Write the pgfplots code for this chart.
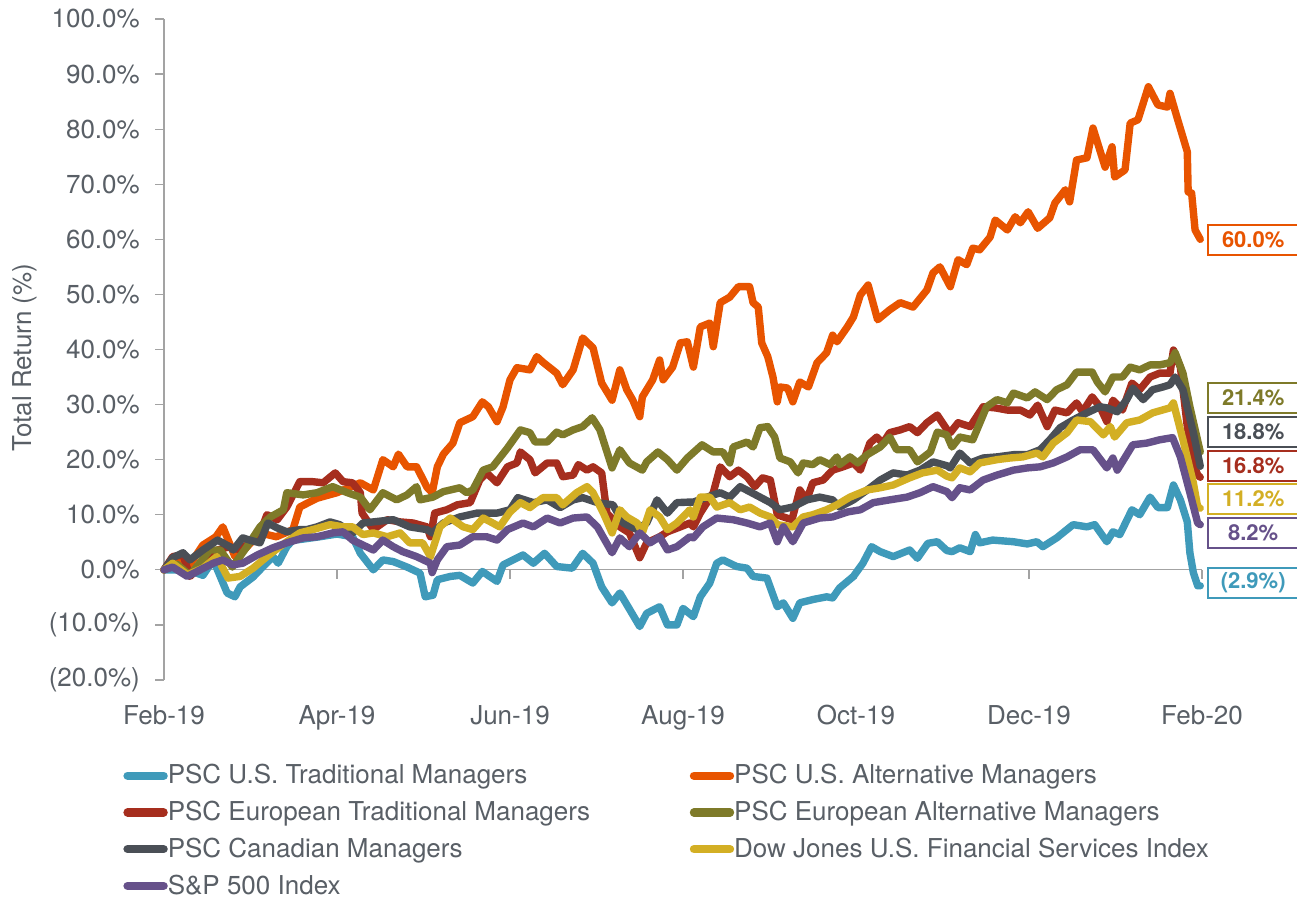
\documentclass[border=0pt]{standalone}
\usepackage{fontspec}
\setmainfont{TeX Gyre Heros}
\usepackage{pgfplots}
\pgfplotsset{compat=1.18}
\definecolor{cTeal}{HTML}{3F9ABA}
\definecolor{cOrange}{HTML}{E85400}
\definecolor{cRed}{HTML}{A62E1E}
\definecolor{cOlive}{HTML}{7E7A29}
\definecolor{cGray}{HTML}{4A4F56}
\definecolor{cYellow}{HTML}{D3AF24}
\definecolor{cPurple}{HTML}{66518A}
\definecolor{cText}{HTML}{595F66}
\definecolor{cAxis}{HTML}{A3A3A3}
\begin{document}
\begin{tikzpicture}
\useasboundingbox (-82pt,-108.5pt) rectangle (566.5pt,340pt);
\begin{axis}[
  at={(0,0)}, anchor=south west,
  scale only axis, width=519pt, height=330.5pt,
  xmin=0, xmax=12, ymin=-20, ymax=100,
  clip=false,
  axis y line*=left, axis x line*=bottom,
  x axis line style={draw=none},
  y axis line style={cAxis, line width=0.6pt},
  xtick={0,2,4,6,8,10,12},
  xticklabels={Feb-19,Apr-19,Jun-19,Aug-19,Oct-19,Dec-19,Feb-20},
  xtick style={draw=none},
  ytick={-20,-10,0,10,20,30,40,50,60,70,80,90,100},
  yticklabels={(20.0\%),(10.0\%),0.0\%,10.0\%,20.0\%,30.0\%,40.0\%,50.0\%,60.0\%,70.0\%,80.0\%,90.0\%,100.0\%},
  ytick style={cAxis, line width=0.6pt},
  tick align=outside, major tick length=4.4pt,
  tick label style={font=\fontsize{13}{15}\selectfont, text=cText},
  xticklabel style={anchor=base, yshift=-17.8pt},
  yticklabel style={inner xsep=0pt, xshift=-7.5pt},
  ylabel={Total Return (\%)},
  ylabel style={at={(axis description cs:-0.134,0.488)}, anchor=center, font=\fontsize{13}{15}\selectfont, text=cText},
  every axis plot/.append style={line width=3.7pt, line join=round, line cap=round},
  legend columns=2,
  legend cell align=left,
  legend style={at={(axis description cs:-0.0395,-0.1165)}, anchor=north west, draw=none, fill=none,
    inner sep=0pt, column sep=0pt, row sep=0pt,
    font=\fontsize{13}{15}\selectfont, text=cText,
    nodes={inner xsep=0pt, inner ysep=0pt, minimum height=18.35pt}},
  legend image code/.code={\draw[#1, line width=4.2pt, line cap=round] (2pt,0pt) -- (20pt,0pt);},
]
\draw[cAxis, line width=0.6pt] (axis cs:0,0) -- (axis cs:12,0);
\draw[cAxis, line width=0.6pt] (axis cs:2,0) -- ++(0pt,-4.4pt);
\draw[cAxis, line width=0.6pt] (axis cs:4,0) -- ++(0pt,-4.4pt);
\draw[cAxis, line width=0.6pt] (axis cs:6,0) -- ++(0pt,-4.4pt);
\draw[cAxis, line width=0.6pt] (axis cs:8,0) -- ++(0pt,-4.4pt);
\draw[cAxis, line width=0.6pt] (axis cs:10,0) -- ++(0pt,-4.4pt);
\draw[cAxis, line width=0.6pt] (axis cs:12,0) -- ++(0pt,-4.4pt);

% PSC U.S. Traditional Managers
\addplot[cTeal] coordinates {
(0,0) (0.27,0) (0.45,-1) (0.57,1.8) (0.73,-4.2) (0.82,-4.9) (0.88,-3.1) (1.03,-1.3) (1.14,0.5) (1.26,2.4) (1.32,1.2) (1.42,4.2) (1.49,5.4)
(1.57,5.5) (1.8,6) (2.0,6.5) (2.18,6) (2.27,3) (2.42,0) (2.53,1.8) (2.65,1.5) (2.81,0.5) (2.96,-0.6) (3.02,-4.9) (3.11,-4.6) (3.16,-1.8)
(3.31,-1.2) (3.42,-1) (3.57,-2.4) (3.68,-0.3) (3.85,-2.1) (3.92,0.9) (4.15,2.7) (4.27,1.2) (4.40,3) (4.54,0.6) (4.72,0.3) (4.84,3) (4.96,1.2)
(5.06,-3.1) (5.18,-6) (5.27,-4.2) (5.41,-7.9) (5.50,-10.3) (5.58,-7.9) (5.73,-6.7) (5.82,-10) (5.93,-10) (6.00,-7) (6.12,-8.5) (6.20,-4.9)
(6.31,-2.4) (6.39,1.2) (6.46,1.8) (6.62,0.6) (6.74,0.3) (6.81,-1.2) (6.97,-1.5) (7.09,-6.7) (7.16,-6) (7.27,-8.8) (7.35,-6) (7.50,-5.4)
(7.66,-4.9) (7.73,-5.1) (7.81,-3.3) (7.97,-1.2) (8.08,1.2) (8.18,4.2) (8.28,3.3) (8.43,2.4) (8.62,3.6) (8.71,2.1) (8.83,4.8) (8.94,5.1)
(9.05,3.5) (9.11,3.3) (9.20,4) (9.32,3.3) (9.38,6.4) (9.43,4.9) (9.58,5.4) (9.82,5.1) (9.98,4.7) (10.09,5.1) (10.16,4.2) (10.32,5.8)
(10.51,8.2) (10.67,7.8) (10.76,8.2) (10.90,5.1) (10.97,6.9) (11.05,6.4) (11.19,10.9) (11.28,10) (11.40,13.2) (11.49,11.3) (11.60,11.3)
(11.67,15.4) (11.75,12.7) (11.83,8.7) (11.86,3.1) (11.90,-0.5) (11.95,-2.9) (11.98,-2.9)
};
\addlegendentry{\makebox[261pt][l]{PSC U.S. Traditional Managers}}

% PSC U.S. Alternative Managers
\addplot[cOrange] coordinates {
(0,0) (0.15,1.5) (0.3,1) (0.45,4.5) (0.6,6) (0.68,7.8) (0.82,2.4) (0.95,4) (1.11,6.7) (1.3,6) (1.49,7.3) (1.57,11.4) (1.77,13) (2.00,14)
(2.27,15.8) (2.42,14.5) (2.53,20) (2.65,18.7) (2.71,21) (2.81,18.7) (2.92,18.7) (3.04,15) (3.10,14) (3.16,18.7) (3.23,21) (3.34,23)
(3.42,26.7) (3.57,27.8) (3.68,30.5) (3.75,29.6) (3.85,26.9) (3.92,29.6) (4.00,34.5) (4.08,36.7) (4.23,36.3) (4.31,38.7) (4.38,37.7)
(4.54,35.7) (4.61,33.6) (4.73,36.3) (4.84,42.1) (4.96,40.3) (5.06,33.9) (5.18,30.8) (5.27,36.3) (5.35,32.7) (5.42,30.8) (5.50,27.8)
(5.53,31.4) (5.65,34.5) (5.73,38.1) (5.77,34.5) (5.88,36.8) (5.97,41.2) (6.05,41.4) (6.12,36.8) (6.20,44.1) (6.31,44.8) (6.35,40.5)
(6.43,48.5) (6.54,49.5) (6.64,51.4) (6.77,51.4) (6.81,48.5) (6.87,47.7) (6.91,41.2) (6.98,38.7) (7.04,35) (7.09,30.5) (7.12,33.2)
(7.21,33) (7.27,30.5) (7.35,34.1) (7.45,33.2) (7.55,37.6) (7.66,39.4) (7.73,42.6) (7.78,41.4) (7.90,44.1) (7.97,45.9) (8.05,49.9)
(8.14,51.7) (8.25,45.4) (8.39,47.2) (8.51,48.5) (8.66,47.7) (8.82,50.8) (8.89,53.9) (8.97,55) (9.09,51.4) (9.18,56.3) (9.28,55.4)
(9.35,58.4) (9.43,58.1) (9.55,60.4) (9.61,63.5) (9.75,61.7) (9.84,64.1) (9.90,63) (9.99,65) (10.10,62) (10.24,63.9) (10.30,66.6)
(10.42,69) (10.47,66.8) (10.55,74.4) (10.67,74.8) (10.74,80.2) (10.88,73.1) (10.96,76.8) (10.99,71.3) (11.11,72.6) (11.17,81.1)
(11.26,81.7) (11.38,87.7) (11.49,84.4) (11.60,84) (11.63,86.5) (11.71,82.2) (11.83,75.9) (11.84,68.6) (11.88,68.4) (11.92,61.7) (11.98,60.0)
};
\addlegendentry{PSC U.S. Alternative Managers}

% PSC European Traditional Managers
\addplot[cRed] coordinates {
(0,0) (0.10,2.4) (0.22,2.7) (0.30,-1.2) (0.45,1.2) (0.62,3.6) (0.76,4.2) (0.88,3.6) (0.99,4.9) (1.11,6.7) (1.19,10) (1.31,9.1) (1.42,11.4)
(1.57,16) (1.72,16) (1.84,15.8) (1.98,17.6) (2.07,16) (2.18,15.8) (2.27,14) (2.29,10.3) (2.42,7.3) (2.58,9.1) (2.73,8.7) (2.88,8.5)
(3.04,7.8) (3.08,6) (3.13,10.3) (3.27,10.9) (3.39,11.8) (3.54,12.2) (3.65,16.3) (3.73,17.6) (3.85,15.8) (3.97,18.7) (4.08,19.4) (4.12,21.4)
(4.23,20) (4.29,17.6) (4.43,19.4) (4.54,19.4) (4.61,16.9) (4.73,17.2) (4.79,19.1) (4.89,18.1) (4.96,18.7) (5.06,17.6) (5.12,10.3)
(5.27,7.8) (5.38,6.7) (5.50,2.2) (5.58,4.9) (5.73,6) (5.82,6.9) (5.97,7.8) (6.08,8.5) (6.12,7.8) (6.20,10.3) (6.35,14) (6.43,18.7)
(6.54,16.9) (6.64,18.1) (6.74,16.9) (6.83,15.1) (6.92,16.7) (7.01,16.3) (7.09,10) (7.16,9.6) (7.26,9.1) (7.35,14.5) (7.43,12.7) (7.50,15.8)
(7.62,16.3) (7.73,18.1) (7.85,18.7) (7.97,19.4) (8.05,18.1) (8.16,23) (8.24,24.1) (8.31,23) (8.39,24.9) (8.51,25.4) (8.62,26) (8.71,24.9)
(8.82,26.7) (8.94,28.1) (9.05,25.5) (9.09,24.9) (9.18,26.7) (9.32,26) (9.47,29.6) (9.61,29.4) (9.75,29) (9.90,29) (10.01,28.1) (10.10,29.9)
(10.21,26) (10.30,29) (10.44,28.5) (10.55,30.3) (10.62,28.7) (10.73,31.4) (10.82,29.6) (10.90,26.9) (10.97,30.8) (11.08,29) (11.19,33.9)
(11.28,32.7) (11.40,35) (11.51,35.7) (11.63,35.7) (11.67,39.9) (11.75,36.8) (11.83,26) (11.90,19.4) (11.95,17.2) (11.98,16.8)
};
\addlegendentry{\makebox[261pt][l]{PSC European Traditional Managers}}

% PSC European Alternative Managers
\addplot[cOlive] coordinates {
(0,0) (0.15,1) (0.30,-1) (0.53,3.6) (0.65,3.6) (0.79,0.5) (0.95,4) (1.11,7.8) (1.23,9.6) (1.38,10.9) (1.42,14) (1.61,13.6) (1.77,14)
(1.95,15.1) (2.12,14) (2.27,13.2) (2.38,10.9) (2.53,14) (2.69,12.7) (2.81,13.6) (2.92,15.1) (2.96,12.7) (3.08,13.1) (3.11,13.2) (3.23,14.2)
(3.42,14.9) (3.50,14) (3.57,14.5) (3.69,18.1) (3.80,18.7) (3.97,22.1) (4.12,25.4) (4.23,24.9) (4.29,23.2) (4.43,23.2) (4.54,25) (4.61,24.5)
(4.73,25.4) (4.84,26) (4.95,27.6) (5.04,25.4) (5.18,18.5) (5.27,21.8) (5.38,19.4) (5.53,18.1) (5.58,19.6) (5.71,21.4) (5.82,20) (5.93,18.1)
(6.05,20.3) (6.22,22.7) (6.35,21.4) (6.46,21.4) (6.54,19.4) (6.58,22.3) (6.74,23.2) (6.81,22.3) (6.89,25.8) (6.98,26) (7.06,24.1)
(7.12,20.3) (7.24,19.6) (7.33,17.6) (7.39,19.4) (7.50,19.1) (7.58,20) (7.70,19.1) (7.78,20.5) (7.81,19.1) (7.93,20.5) (8.02,19.4)
(8.13,20.9) (8.28,22.3) (8.39,24.1) (8.47,21.8) (8.62,21.8) (8.71,19.6) (8.86,21.4) (8.94,25) (9.05,24.5) (9.11,22.3) (9.20,24.1)
(9.35,23.6) (9.51,29.6) (9.63,30.9) (9.75,30.3) (9.82,32.1) (9.98,31.2) (10.07,32.3) (10.21,30.9) (10.32,32.7) (10.44,33.6) (10.55,35.9)
(10.73,35.9) (10.79,34.1) (10.88,32.3) (10.97,35) (11.08,35) (11.17,36.8) (11.28,36.3) (11.40,37.2) (11.51,37.2) (11.63,37.6) (11.69,39.4)
(11.78,35.7) (11.86,29.6) (11.98,21.4)
};
\addlegendentry{PSC European Alternative Managers}

% PSC Canadian Managers
\addplot[cGray] coordinates {
(0,0) (0.10,2.2) (0.22,3.1) (0.30,1.8) (0.45,3.6) (0.62,5.4) (0.76,4.2) (0.80,3.6) (0.91,5.8) (0.99,5.4) (1.11,4.9) (1.20,8.5) (1.31,7.6)
(1.42,6.9) (1.57,7.3) (1.65,7.3) (1.77,7.8) (1.92,8.7) (2.03,8.2) (2.18,6.7) (2.30,8.5) (2.42,8.7) (2.65,9.1) (2.84,7.8) (3.04,7.3)
(3.10,6.7) (3.23,8.5) (3.42,9.6) (3.62,10.3) (3.85,10.3) (4.00,10.9) (4.09,13.1) (4.27,12.2) (4.43,12.7) (4.58,11.3) (4.73,12.7)
(4.84,13.1) (5.01,12.2) (5.19,11.8) (5.31,8.5) (5.47,7.3) (5.58,8.5) (5.70,12.7) (5.82,10.3) (5.93,12.2) (6.08,12.3) (6.12,12.3)
(6.28,13.2) (6.43,14) (6.54,13.2) (6.66,15.1) (6.77,14.2) (6.89,13.2) (7.01,12.2) (7.12,10.9) (7.27,11.4) (7.43,12.7) (7.58,13.2)
(7.73,12.7) (7.81,11.4) (7.97,12.7) (8.13,14.5) (8.28,16.3) (8.43,17.6) (8.59,17.2) (8.74,18.1) (8.89,19.6) (9.05,18.9) (9.09,18.5)
(9.20,21.2) (9.32,19.4) (9.47,20.3) (9.63,20.5) (9.82,20.9) (9.98,20.9) (10.13,21.8) (10.24,23.6) (10.36,25.8) (10.51,27.2) (10.67,28.5)
(10.82,29.6) (10.90,29.4) (11.02,28.7) (11.13,30.9) (11.20,33) (11.32,30.9) (11.43,32.7) (11.55,33.2) (11.63,33.6) (11.69,35) (11.78,32.7)
(11.90,24.9) (11.98,18.8)
};
\addlegendentry{\makebox[261pt][l]{PSC Canadian Managers}}

% Dow Jones U.S. Financial Services Index
\addplot[cYellow] coordinates {
(0,0) (0.10,1.2) (0.27,-0.9) (0.45,0.3) (0.61,2.4) (0.74,-1.5) (0.88,-1.2) (1.03,0.3) (1.19,2.4) (1.34,4.2) (1.42,5.1) (1.57,6.7) (1.72,7.3)
(1.92,8.2) (2.07,7.8) (2.18,7.8) (2.30,6.4) (2.42,6.7) (2.58,6) (2.73,6.7) (2.84,4.9) (2.99,4.9) (3.08,2.4) (3.19,7.8) (3.31,9.4)
(3.46,7.8) (3.57,7.3) (3.69,9.4) (3.80,8.5) (3.88,7.8) (4.00,10.5) (4.12,12.2) (4.23,11.3) (4.38,13.1) (4.54,13.1) (4.61,11.8) (4.77,14)
(4.89,15.1) (4.96,14) (5.08,10.3) (5.18,6.7) (5.27,10.9) (5.35,9.6) (5.47,8.5) (5.53,6.7) (5.62,10.9) (5.73,9.6) (5.82,7.3) (5.93,8.5)
(6.08,10.9) (6.12,9.6) (6.20,13.2) (6.31,13.2) (6.39,11.4) (6.54,12.2) (6.66,10.9) (6.77,11.4) (6.89,10.3) (7.01,9.6) (7.09,8.2)
(7.27,7.8) (7.39,9.6) (7.50,10) (7.66,10.9) (7.78,11.8) (7.93,13.2) (8.13,14.5) (8.28,14.9) (8.43,15.4) (8.62,16.7) (8.77,17.6)
(8.94,18.1) (9.05,17) (9.11,16.7) (9.20,18.5) (9.32,17.8) (9.43,19.4) (9.63,20) (9.78,20.3) (9.93,20.5) (10.09,21.2) (10.16,20.5)
(10.28,23) (10.44,24.9) (10.55,27.2) (10.71,26.9) (10.86,24.5) (10.94,26) (10.99,24.1) (11.13,26.7) (11.28,27.2) (11.43,28.5) (11.63,29.4)
(11.67,30.3) (11.78,23.6) (11.90,15.8) (11.95,11.4) (11.98,11.2)
};
\addlegendentry{Dow Jones U.S. Financial Services Index}

% S&P 500 Index
\addplot[cPurple] coordinates {
(0,0) (0.10,0.5) (0.27,-1.2) (0.42,0) (0.57,1.2) (0.68,1.8) (0.80,0.9) (0.91,1.2) (1.08,2.7) (1.26,4) (1.42,4.9) (1.61,5.8) (1.77,6)
(1.95,6.7) (2.07,6.9) (2.18,5.4) (2.30,4.5) (2.42,3.6) (2.53,5.4) (2.65,4.2) (2.76,3.3) (2.92,2.4) (3.08,1.2) (3.10,-0.5) (3.16,1.8)
(3.27,4.2) (3.42,4.5) (3.57,6) (3.73,6) (3.85,5.4) (3.97,7.3) (4.15,8.5) (4.27,7.8) (4.43,9.4) (4.58,8.5) (4.73,9.4) (4.89,9.6) (5.01,7.8)
(5.18,3.1) (5.27,5.8) (5.38,4.2) (5.50,6.7) (5.62,4.9) (5.73,6) (5.82,3.6) (5.93,4.2) (6.08,6) (6.12,5.8) (6.23,7.8) (6.39,9.4) (6.58,9.1)
(6.74,8.5) (6.89,7.8) (7.01,8.5) (7.09,5.1) (7.16,7.8) (7.27,5.1) (7.39,8.5) (7.58,9.4) (7.73,9.6) (7.90,10.5) (8.05,10.9) (8.20,12.2)
(8.39,12.7) (8.59,13.2) (8.74,14) (8.89,15.1) (9.05,14.2) (9.11,13.1) (9.20,14.9) (9.32,14.5) (9.47,16.3) (9.63,17.2) (9.82,18.1)
(9.98,18.5) (10.13,18.7) (10.28,19.4) (10.44,20.5) (10.59,21.8) (10.74,21.8) (10.90,18.5) (10.97,20.3) (11.02,18.1) (11.13,20.9)
(11.20,22.7) (11.36,23) (11.51,23.6) (11.66,24) (11.75,20.5) (11.86,14) (11.95,8.5) (11.98,8.2)
};
\addlegendentry{S\&P 500 Index}

\begin{scope}[every node/.style={anchor=west, draw, line width=1pt, fill=white, minimum width=45pt, minimum height=15pt, inner sep=0pt, font=\fontsize{11}{13}\selectfont\bfseries}]
\node[draw=cOrange, text=cOrange] at (axis cs:12.06,59.9) {60.0\%};
\node[draw=cOlive, text=cOlive] at (axis cs:12.06,31.2) {21.4\%};
\node[draw=cGray, text=cGray] at (axis cs:12.06,25.0) {18.8\%};
\node[draw=cRed, text=cRed] at (axis cs:12.06,18.9) {16.8\%};
\node[draw=cYellow, text=cYellow] at (axis cs:12.06,12.9) {11.2\%};
\node[draw=cPurple, text=cPurple] at (axis cs:12.06,6.7) {8.2\%};
\node[draw=cTeal, text=cTeal] at (axis cs:12.06,-2.4) {(2.9\%)};
\end{scope}
\end{axis}
\end{tikzpicture}
\end{document}
